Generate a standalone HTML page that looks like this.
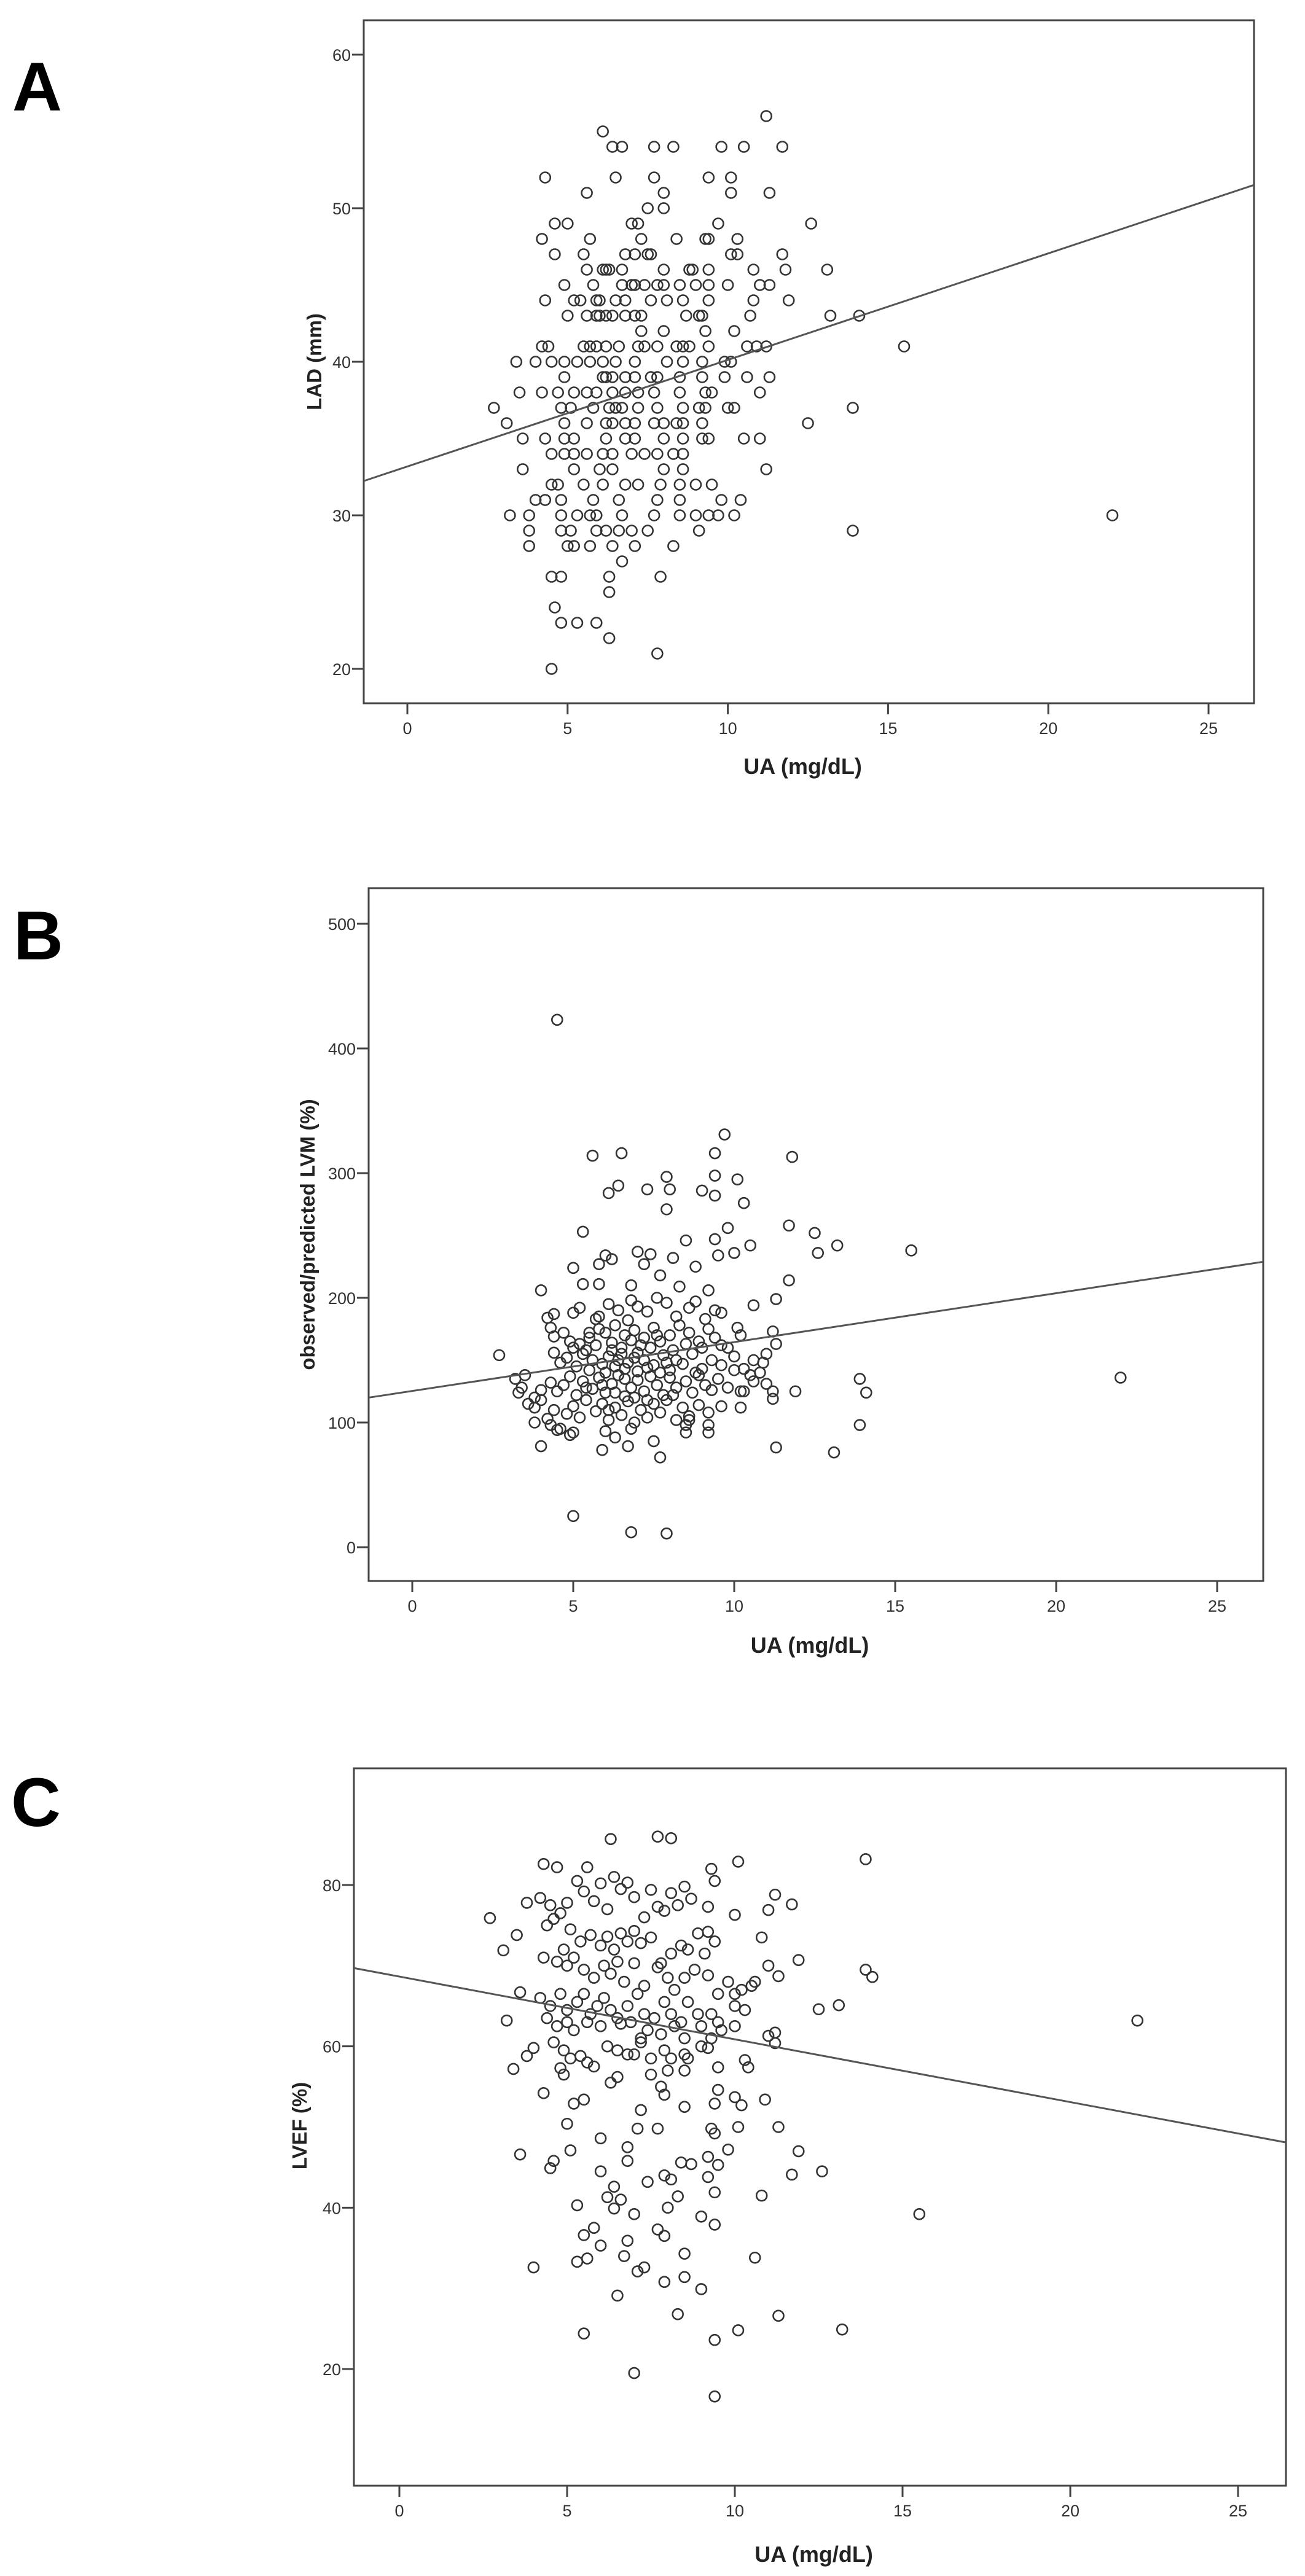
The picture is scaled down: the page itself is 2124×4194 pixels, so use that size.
<!DOCTYPE html>
<html><head><meta charset="utf-8"><style>
html,body{margin:0;padding:0;background:#fff}
svg{display:block}
.tick{font-family:"Liberation Sans Narrow","Liberation Sans",sans-serif;font-size:27px;fill:#333}
.xt{font-family:"Liberation Sans Narrow","Liberation Sans",sans-serif;font-size:36px;font-weight:bold;fill:#222}
.yt{font-family:"Liberation Sans",sans-serif;font-size:33px;font-weight:bold;fill:#222}
.pl{font-family:"Liberation Sans",sans-serif;font-size:112px;font-weight:bold;fill:#000}
</style></head><body>
<svg id="fig" xmlns="http://www.w3.org/2000/svg" width="2124" height="4194" viewBox="0 0 2124 4194"></svg>
<script>
// ---------- Panel A data: [UA, LAD] ----------
const ladPoints = [
[11.2,56],[6.1,55],[6.4,54],[6.7,54],[7.7,54],[8.3,54],[9.8,54],[10.5,54],[11.7,54],
[4.3,52],[6.5,52],[7.7,52],[9.4,52],[10.1,52],[5.6,51],[8.0,51],[10.1,51],[11.3,51],[7.5,50],[8.0,50],
[4.6,49],[5.0,49],[7.0,49],[7.2,49],[9.7,49],[12.6,49],[4.2,48],[5.7,48],[7.3,48],[8.4,48],[9.3,48],[9.4,48],[10.3,48],
[4.6,47],[5.5,47],[6.8,47],[7.1,47],[7.5,47],[7.6,47],[10.1,47],[10.3,47],[11.7,47],
[5.6,46],[6.1,46],[6.2,46],[6.3,46],[6.7,46],[8.0,46],[8.8,46],[8.9,46],[9.4,46],[10.8,46],[11.8,46],[13.1,46],
[4.9,45],[5.8,45],[6.7,45],[7.0,45],[7.1,45],[7.4,45],[7.8,45],[8.0,45],[8.5,45],[9.0,45],[9.4,45],[10.0,45],[11.0,45],[11.3,45],
[4.3,44],[5.2,44],[5.4,44],[5.9,44],[6.0,44],[6.5,44],[6.8,44],[7.6,44],[8.1,44],[8.6,44],[9.4,44],[10.8,44],[11.9,44],
[5.0,43],[5.6,43],[5.9,43],[6.0,43],[6.2,43],[6.4,43],[6.8,43],[7.1,43],[7.3,43],[8.7,43],[9.1,43],[9.2,43],[10.7,43],[13.2,43],[14.1,43],
[7.3,42],[8.0,42],[9.3,42],[10.2,42],
[4.2,41],[4.4,41],[5.5,41],[5.7,41],[5.9,41],[6.2,41],[6.6,41],[7.2,41],[7.4,41],[7.8,41],[8.4,41],[8.6,41],[8.8,41],[9.4,41],[10.6,41],[10.9,41],[11.2,41],[15.5,41],
[3.4,40],[4.0,40],[4.5,40],[4.9,40],[5.3,40],[5.7,40],[6.1,40],[6.5,40],[7.1,40],[8.1,40],[8.6,40],[9.2,40],[9.9,40],[10.1,40],
[4.9,39],[6.1,39],[6.2,39],[6.4,39],[6.8,39],[7.1,39],[7.6,39],[7.8,39],[8.5,39],[9.2,39],[9.9,39],[10.6,39],[11.3,39],
[3.5,38],[4.2,38],[4.7,38],[5.2,38],[5.6,38],[5.9,38],[6.4,38],[6.8,38],[7.2,38],[7.7,38],[8.5,38],[9.3,38],[9.5,38],[11.0,38],
[2.7,37],[4.8,37],[5.1,37],[5.8,37],[6.3,37],[6.5,37],[6.7,37],[7.2,37],[7.8,37],[8.6,37],[9.1,37],[9.3,37],[10.0,37],[10.2,37],[13.9,37],
[3.1,36],[4.9,36],[5.6,36],[6.2,36],[6.4,36],[6.8,36],[7.1,36],[7.7,36],[8.0,36],[8.4,36],[8.6,36],[9.2,36],[12.5,36],
[3.6,35],[4.3,35],[4.9,35],[5.2,35],[6.2,35],[6.8,35],[7.1,35],[8.0,35],[8.6,35],[9.2,35],[9.4,35],[10.5,35],[11.0,35],
[4.5,34],[4.9,34],[5.2,34],[5.6,34],[6.1,34],[6.4,34],[7.0,34],[7.4,34],[7.8,34],[8.3,34],[8.6,34],
[3.6,33],[5.2,33],[6.0,33],[6.4,33],[8.0,33],[8.6,33],[11.2,33],
[4.5,32],[4.7,32],[5.5,32],[6.1,32],[6.8,32],[7.2,32],[7.9,32],[8.5,32],[9.0,32],[9.5,32],
[4.0,31],[4.3,31],[4.8,31],[5.8,31],[6.6,31],[7.8,31],[8.5,31],[9.8,31],[10.4,31],
[3.2,30],[3.8,30],[4.8,30],[5.3,30],[5.7,30],[5.9,30],[6.7,30],[7.7,30],[8.5,30],[9.0,30],[9.4,30],[9.7,30],[10.2,30],[22.0,30],
[3.8,29],[4.8,29],[5.1,29],[5.9,29],[6.2,29],[6.6,29],[7.0,29],[7.5,29],[9.1,29],[13.9,29],
[3.8,28],[5.0,28],[5.2,28],[5.7,28],[6.4,28],[7.1,28],[8.3,28],[6.7,27],
[4.5,26],[4.8,26],[6.3,26],[7.9,26],[6.3,25],[4.6,24],[4.8,23],[5.3,23],[5.9,23],[6.3,22],[7.8,21],[4.5,20]
];
const ladFit = [33.18, 0.694]; // intercept, slope
const ladYTicks = [20,30,40,50,60];

// ---------- Panel B data: [UA, observed/predicted LVM %] ----------
const lvmPoints = [
[4.5,423],[9.7,331],[5.6,314],[6.5,316],[9.4,316],[11.8,313],[7.9,297],[9.4,298],[10.1,295],[6.4,290],[6.1,284],[7.3,287],[8.0,287],[9.0,286],[9.4,282],[10.3,276],[7.9,271],
[11.7,258],[9.8,256],[5.3,253],[12.5,252],[13.2,242],[10.5,242],[9.4,247],[8.5,246],[15.5,238],[12.6,236],[10.0,236],[7.0,237],[7.4,235],[9.5,234],[8.1,232],[6.0,234],[6.2,231],[5.8,227],[7.2,227],[8.8,225],[5.0,224],
[4.0,206],[9.2,206],[11.7,214],[7.7,218],[5.3,211],[5.8,211],[6.8,210],[8.3,209],[11.3,199],[10.6,194],
[2.7,154],[22.0,136],[13.9,135],[14.1,124],[13.9,98],[11.9,125],[11.3,80],[13.1,76],[4.0,81],[5.9,78],[6.7,81],[7.7,72],[5.0,25],[6.8,12],[7.9,11],
[11.2,125],[11.2,119],[10.2,112],[10.2,125],[9.2,92],[9.2,98],[8.5,92],
[4.2,184],[4.4,187],[5.0,188],[5.2,192],[5.8,185],[6.1,195],[6.4,190],[6.8,198],[7.0,193],[7.3,189],[7.6,200],[7.9,196],[8.2,185],[8.6,192],[8.8,197],[9.1,183],[9.4,190],[9.6,188],[10.1,176],[10.2,170],[10.6,150],[11.0,155],[11.2,173],[11.3,163],[10.9,148],[10.8,140],[11.0,131],[10.5,138],[10.0,142],[9.8,160],[9.6,162],
[4.3,176],[4.4,169],[4.7,172],[4.9,165],[5.2,163],[5.5,168],[5.8,175],[6.0,172],[6.3,178],[6.6,170],[6.9,174],[7.2,168],[7.5,176],[7.7,165],[8.0,170],[8.3,178],[8.6,172],[8.9,165],[9.2,175],[9.4,168],[5.0,160],[5.4,158],[5.7,162],[6.2,164],[6.5,160],[6.8,166],[7.1,162],[7.4,160],[8.1,158],[8.5,163],[9.0,160],
[4.4,156],[4.6,148],[4.8,152],[5.1,145],[5.3,155],[5.6,150],[5.9,147],[6.1,153],[6.3,145],[6.5,155],[6.7,148],[6.9,152],[7.0,141],[7.2,150],[7.5,146],[7.8,154],[8.0,142],[8.2,150],[8.4,147],[8.7,155],[9.0,143],[9.3,150],[9.6,146],[10.0,153],[10.3,143],[5.5,142],[6.0,140],[6.6,143],[7.3,144],[8.8,140],
[3.2,135],[3.4,128],[3.5,138],[4.3,132],[4.5,125],[4.7,130],[4.9,137],[5.1,122],[5.3,133],[5.6,127],[5.8,136],[6.0,124],[6.2,131],[6.4,138],[6.6,121],[6.8,128],[7.0,134],[7.2,125],[7.4,137],[7.6,130],[7.8,122],[8.0,136],[8.2,128],[8.5,133],[8.7,124],[8.9,138],[9.1,130],[9.3,126],[9.5,135],[9.8,128],[10.3,125],[10.6,133],[3.8,120],[4.0,126],[3.3,124],
[3.6,115],[3.8,112],[4.0,118],[4.2,103],[4.4,110],[4.6,95],[4.8,107],[5.0,113],[5.2,104],[5.4,118],[5.7,109],[5.9,115],[6.1,102],[6.3,112],[6.5,106],[6.7,117],[6.9,100],[7.1,110],[7.3,104],[7.5,115],[7.7,108],[7.9,118],[8.2,102],[8.4,112],[8.6,105],[8.9,114],[9.2,108],[9.6,113],[4.3,98],[3.8,100],[4.5,94],[4.9,90],[5.0,92],[6.0,93],[6.3,88],[6.8,95],[7.5,85],[8.5,98],[8.6,102],
[5.5,172],[6.2,158],[6.7,182],[7.0,156],[7.6,170],[6.4,150],[5.9,130],[6.9,120],[7.3,118],[7.7,140],[6.1,110],[5.4,128],[8.1,122],[6.6,135],[7.9,148],[5.7,183],[6.3,124]
];
const lvmFit = [125.3, 3.92];
const lvmYTicks = [0,100,200,300,400,500];

// ---------- Panel C data: [UA, LVEF %] ----------
const lvefPoints = [
[6.3,85.7],[7.7,86.0],[8.1,85.8],[13.9,83.2],[10.1,82.9],[4.3,82.6],[4.7,82.2],[5.6,82.2],[9.3,82.0],[9.4,80.5],
[2.7,75.9],[3.1,71.9],[3.5,73.8],[3.2,63.2],[3.6,66.7],[3.8,77.8],[4.2,78.4],
[22.0,63.2],[13.9,69.5],[14.1,68.6],[12.5,64.6],[13.1,65.1],[11.9,70.7],[11.7,77.6],[11.2,78.8],[11.0,76.9],[11.0,70.0],[11.3,68.7],[10.8,73.5],[10.0,76.3],[11.2,61.7],[11.0,61.3],[11.2,60.4],
[3.4,57.2],[3.8,58.8],[4.0,59.8],[4.3,54.2],[3.6,46.6],[4.0,32.6],[4.5,44.9],[4.6,45.8],
[5.1,47.1],[5.0,50.4],[5.2,52.9],[5.5,53.4],[5.3,40.3],[5.5,36.6],[5.8,37.5],[5.3,33.3],[5.6,33.7],[5.5,24.4],[6.0,35.3],[6.0,48.6],[6.0,44.5],[6.2,41.3],[6.4,42.6],[6.4,39.9],[6.6,41.0],[6.5,29.1],[6.7,34.0],[6.8,35.9],[6.8,45.8],[6.8,47.5],[7.0,39.2],[7.1,32.1],[7.3,32.6],[7.0,19.5],[7.4,43.2],[7.1,49.8],[7.2,52.1],[7.7,49.8],[7.7,37.3],[7.9,36.5],[7.9,30.8],[8.0,40.0],[7.9,44.0],[8.1,43.5],[8.3,41.4],[8.5,34.3],[8.5,31.4],[8.3,26.8],[8.4,45.6],[8.7,45.4],[8.5,52.5],[9.0,38.9],[9.0,29.9],[9.2,46.3],[9.2,43.8],[9.3,49.8],[9.4,49.2],[9.4,41.9],[9.4,37.9],[9.4,23.6],[9.4,16.6],[9.5,45.3],[9.5,54.6],[9.4,52.9],[9.8,47.2],[10.0,53.7],[10.1,50.0],[10.2,52.7],[10.1,24.8],[10.6,33.8],[10.8,41.5],[10.9,53.4],[11.3,26.6],[11.3,50.0],[11.9,47.0],[11.7,44.1],[12.6,44.5],[13.2,24.9],[15.5,39.2],
[9.5,57.4],[10.4,57.4],[10.3,58.3],
[4.5,77.5],[4.8,76.5],[5.0,77.8],[5.3,80.5],[5.5,79.2],[5.8,78.0],[6.0,80.2],[6.2,77.0],[6.4,81.0],[6.6,79.5],[6.8,80.3],[7.0,78.5],[7.3,76.0],[7.5,79.4],[7.7,77.3],[7.9,76.8],[8.1,79.0],[8.3,77.5],[8.5,79.8],[8.7,78.3],[9.2,77.3],
[4.4,75.0],[4.6,75.8],[5.1,74.5],[5.4,73.0],[5.7,73.8],[6.0,72.5],[6.2,73.6],[6.4,72.0],[6.6,74.0],[6.8,73.0],[7.0,74.3],[7.2,72.8],[7.5,73.5],[7.8,70.3],[8.1,71.5],[8.4,72.5],[8.6,72.0],[8.9,74.0],[9.1,71.5],[9.4,73.0],[9.2,74.2],
[4.3,71.0],[4.7,70.5],[4.9,72.0],[5.0,70.0],[5.2,71.0],[5.5,69.5],[5.8,68.5],[6.1,70.0],[6.3,69.0],[6.5,70.5],[6.7,68.0],[7.0,70.3],[7.3,67.5],[7.7,69.8],[8.0,68.5],[8.2,67.0],[8.5,68.5],[8.8,69.5],[9.2,68.8],[9.5,66.5],[9.8,68.0],[10.0,66.5],[10.2,67.0],[10.5,67.5],[10.6,68.0],
[4.2,66.0],[4.5,65.0],[4.8,66.5],[5.0,64.5],[5.3,65.5],[5.5,66.5],[5.7,64.0],[5.9,65.0],[6.1,66.0],[6.3,64.5],[6.5,63.5],[6.8,65.0],[7.1,66.5],[7.3,64.0],[7.6,63.5],[7.9,65.5],[8.1,64.0],[8.4,63.0],[8.6,65.5],[8.9,64.0],[9.3,64.0],[9.5,63.0],[10.0,65.0],[10.3,64.5],[4.4,63.5],[4.7,62.5],[5.0,63.0],[5.2,62.0],[5.6,63.0],[6.0,62.5],[6.6,62.8],[6.9,63.0],[7.4,62.0],[7.8,61.5],[8.2,62.5],[8.5,61.0],[9.0,62.5],[9.3,61.0],[9.6,62.0],[10.0,62.5],
[4.6,60.5],[4.9,59.5],[5.1,58.5],[5.4,58.8],[5.6,58.0],[5.8,57.5],[6.2,60.0],[6.5,59.5],[6.8,59.0],[7.0,59.0],[7.2,60.5],[7.5,58.5],[7.9,59.5],[8.1,58.5],[8.5,59.0],[8.6,58.5],[9.0,60.0],[9.2,59.8],[6.5,56.2],[6.3,55.5],[7.2,61.0],[8.0,57.0],[8.5,57.0],[7.8,55.0],[7.9,54.0],[7.5,56.5],[4.8,57.3],[4.9,56.5]
];
const lvefFit = [68.65, -0.778];
const lvefYTicks = [20,40,60,80];

const xTicks = [0,5,10,15,20,25];

const NS = "http://www.w3.org/2000/svg";
const fig = document.getElementById('fig');
function mk(tag, attrs, parent){const e=document.createElementNS(NS,tag);for(const k in attrs)e.setAttribute(k,attrs[k]);parent.appendChild(e);return e;}

function panel(cfg, points, fit, yTicks){
  const g = mk('g',{},fig);
  
  
  const sx = v => cfg.x0 + v*cfg.kx;
  const sy = v => cfg.ya + (v - cfg.va)*(cfg.yb - cfg.ya)/(cfg.vb - cfg.va);
  // frame
  const fr = mk('rect',{x:cfg.L,y:cfg.T,width:cfg.R-cfg.L,height:cfg.B-cfg.T,fill:'none',stroke:'#444','stroke-width':3},g);
  
  
  // y ticks
  yTicks.forEach(t=>{
    const y = sy(t);
    const tl = mk('line',{x1:cfg.L-19,x2:cfg.L,y1:y,y2:y,stroke:'#444','stroke-width':3},g);
    
    
    const tx = mk('text',{x:cfg.L-21,y:y+10,'text-anchor':'end',class:'tick'},g);
    tx.textContent = t;
    
    
  });
  xTicks.forEach(t=>{
    const x = sx(t);
    const tl = mk('line',{x1:x,x2:x,y1:cfg.B,y2:cfg.B+18,stroke:'#444','stroke-width':3},g);
    
    
    const tx = mk('text',{x:x,y:cfg.B+50,'text-anchor':'middle',class:'tick'},g);
    tx.textContent = t;
    
    
  });
  // points
  points.forEach(p=>{
    const c = mk('circle',{cx:sx(p[0]),cy:sy(p[1]),r:8.5,fill:'none',stroke:'#333','stroke-width':2.6},g);
    
    
  });
  // fit line
  const xl = (cfg.L-cfg.x0)/cfg.kx, xr = (cfg.R-cfg.x0)/cfg.kx;
  const ln = mk('line',{x1:cfg.L,y1:sy(fit[0]+fit[1]*xl),x2:cfg.R,y2:sy(fit[0]+fit[1]*xr),stroke:'#555','stroke-width':3},g);
  
  
  // titles
  const xt = mk('text',{x:(cfg.L+cfg.R)/2-10,y:cfg.xtY,'text-anchor':'middle',class:'xt'},g);
  xt.textContent = 'UA (mg/dL)';
  
  
  const yt = mk('text',{x:0,y:0,'text-anchor':'middle',class:'yt',transform:`translate(${cfg.ytX},${cfg.ytY}) rotate(-90)`},g);
  yt.textContent = cfg.ytitle;
  
  
  const pl = mk('text',{x:cfg.lx,y:cfg.ly,class:'pl'},g);
  pl.textContent = cfg.letter;
  
  
}

panel({name:'panel-a-lad',L:592,R:2041,T:33,B:1145,x0:663,kx:52.16,va:20,ya:1089,vb:60,yb:89,
  xtY:1260,ytX:523,ytY:589,ytitle:'LAD (mm)',letter:'A',lx:20,ly:180}, ladPoints, ladFit, ladYTicks);
panel({name:'panel-b-lvm',L:600,R:2056,T:1446,B:2574,x0:671,kx:52.4,va:0,ya:2519,vb:500,yb:1504,
  xtY:2691,ytX:512,ytY:2010,ytitle:'observed/predicted LVM (%)',letter:'B',lx:22,ly:1562}, lvmPoints, lvmFit, lvmYTicks);
panel({name:'panel-c-lvef',L:576,R:2093,T:2879,B:4047,x0:650,kx:54.6,va:20,ya:3857,vb:80,yb:3069,
  xtY:4171,ytX:499,ytY:3461,ytitle:'LVEF (%)',letter:'C',lx:18,ly:2973}, lvefPoints, lvefFit, lvefYTicks);
</script>
</body></html>
